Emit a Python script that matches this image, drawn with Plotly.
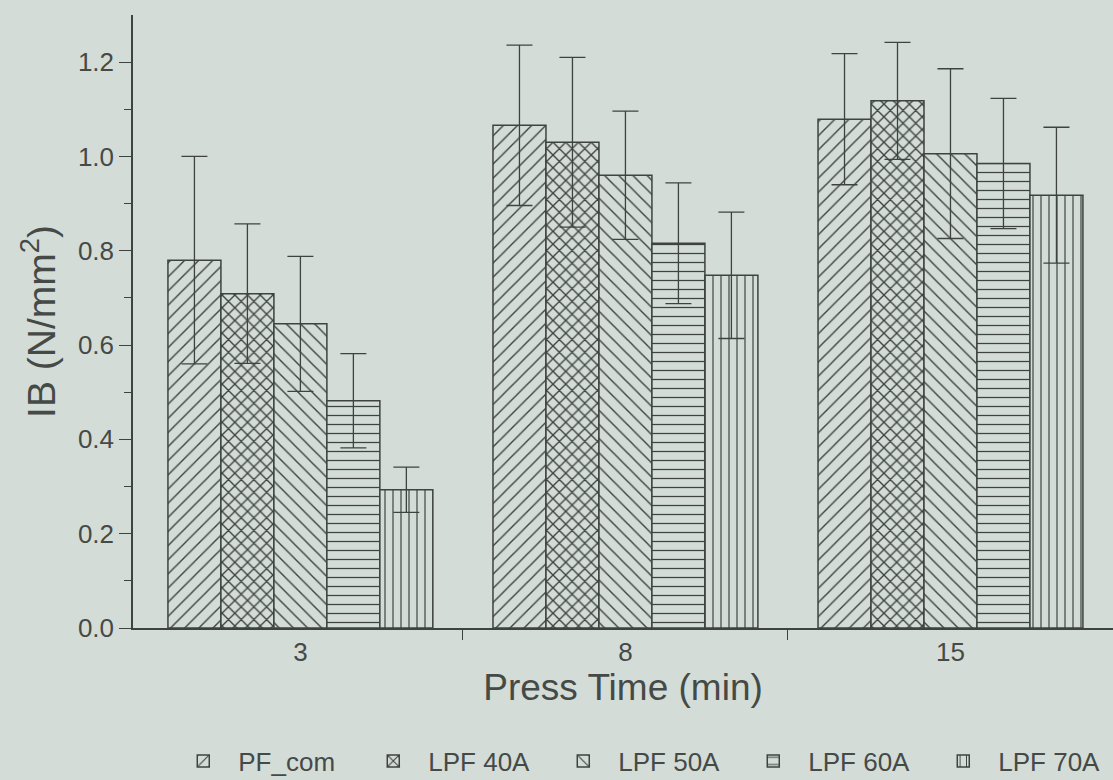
import plotly.graph_objects as go

# Press time groups
press_time = ["3", "8", "15"]

# Internal bond strength means (N/mm^2) and standard deviations per adhesive
series_names = ["PF_com", "LPF 40A", "LPF 50A", "LPF 60A", "LPF 70A"]
pf_com = [0.78, 1.066, 1.079]
lpf_40a = [0.709, 1.030, 1.118]
lpf_50a = [0.645, 0.960, 1.006]
lpf_60a = [0.482, 0.816, 0.985]
lpf_70a = [0.293, 0.748, 0.918]

pf_com_sd = [0.22, 0.17, 0.139]
lpf_40a_sd = [0.148, 0.18, 0.124]
lpf_50a_sd = [0.143, 0.136, 0.18]
lpf_60a_sd = [0.10, 0.128, 0.138]
lpf_70a_sd = [0.048, 0.134, 0.144]

means = [pf_com, lpf_40a, lpf_50a, lpf_60a, lpf_70a]
sds = [pf_com_sd, lpf_40a_sd, lpf_50a_sd, lpf_60a_sd, lpf_70a_sd]

BG = "#d4dcd7"
INK = "#3e4340"
TEXT = "#454a47"
FONT = "Liberation Sans, Arial, sans-serif"

# (shape, tile size, solidity) for each hatch
hatches = [("/", 10, 0.14), ("x", 9, 0.28), ("\\", 10, 0.14), ("-", 9, 0.14), ("|", 8, 0.15)]

xpos = list(range(len(press_time)))

fig = go.Figure()
for name, vals, err, (shape, size, sol) in zip(series_names, means, sds, hatches):
    fig.add_trace(go.Bar(
        name=name,
        x=xpos,
        y=vals,
        marker=dict(
            color=BG,
            line=dict(color=INK, width=1.5),
            pattern=dict(shape=shape, size=size, solidity=sol,
                         fgcolor=INK, bgcolor=BG, fillmode="replace"),
        ),
        error_y=dict(type="data", array=err, visible=True,
                     color=INK, thickness=1.3, width=13),
    ))

fig.update_layout(
    width=1113, height=780,
    paper_bgcolor=BG, plot_bgcolor=BG,
    margin=dict(l=133, r=0, t=15, b=152, autoexpand=False),
    barmode="group", bargap=0.185, bargroupgap=0,
    font=dict(family=FONT, color=TEXT, size=26),
    showlegend=True,
    legend=dict(orientation="h", x=0.036, xanchor="left", y=-0.217, yanchor="middle",
                font=dict(size=26, color=TEXT), bgcolor="rgba(0,0,0,0)",
                itemwidth=60, entrywidth=115, tracegroupgap=0),
)

fig.update_xaxes(
    range=[-0.515, 2.5],
    showline=True, linecolor=INK, linewidth=1.5,
    tickmode="array", tickvals=xpos, ticktext=press_time, ticks="",
    minor=dict(tickvals=[0.5, 1.5, 2.5], ticks="outside", ticklen=10,
               tickcolor=INK, tickwidth=1.3, showgrid=False),
    showgrid=False, zeroline=False,
    tickfont=dict(size=26, color=TEXT),
    title=dict(text="Press Time (min)", font=dict(size=37, color=TEXT), standoff=6),
)

fig.update_yaxes(
    range=[0, 1.3],
    showline=True, linecolor=INK, linewidth=1.5,
    ticks="outside", ticklen=12, tickcolor=INK, tickwidth=1.3,
    tickmode="array", tickvals=[0, 0.2, 0.4, 0.6, 0.8, 1.0, 1.2],
    ticktext=["0.0", "0.2", "0.4", "0.6", "0.8", "1.0", "1.2"],
    minor=dict(tickvals=[0.1, 0.3, 0.5, 0.7, 0.9, 1.1], ticks="outside",
               ticklen=7, tickcolor=INK, tickwidth=1.3, showgrid=False),
    showgrid=False, zeroline=False,
    tickfont=dict(size=26, color=TEXT),
    title=dict(text="IB (N/mm<sup>2</sup>)", font=dict(size=39, color=TEXT), standoff=10),
)

fig.write_html("out.html")
